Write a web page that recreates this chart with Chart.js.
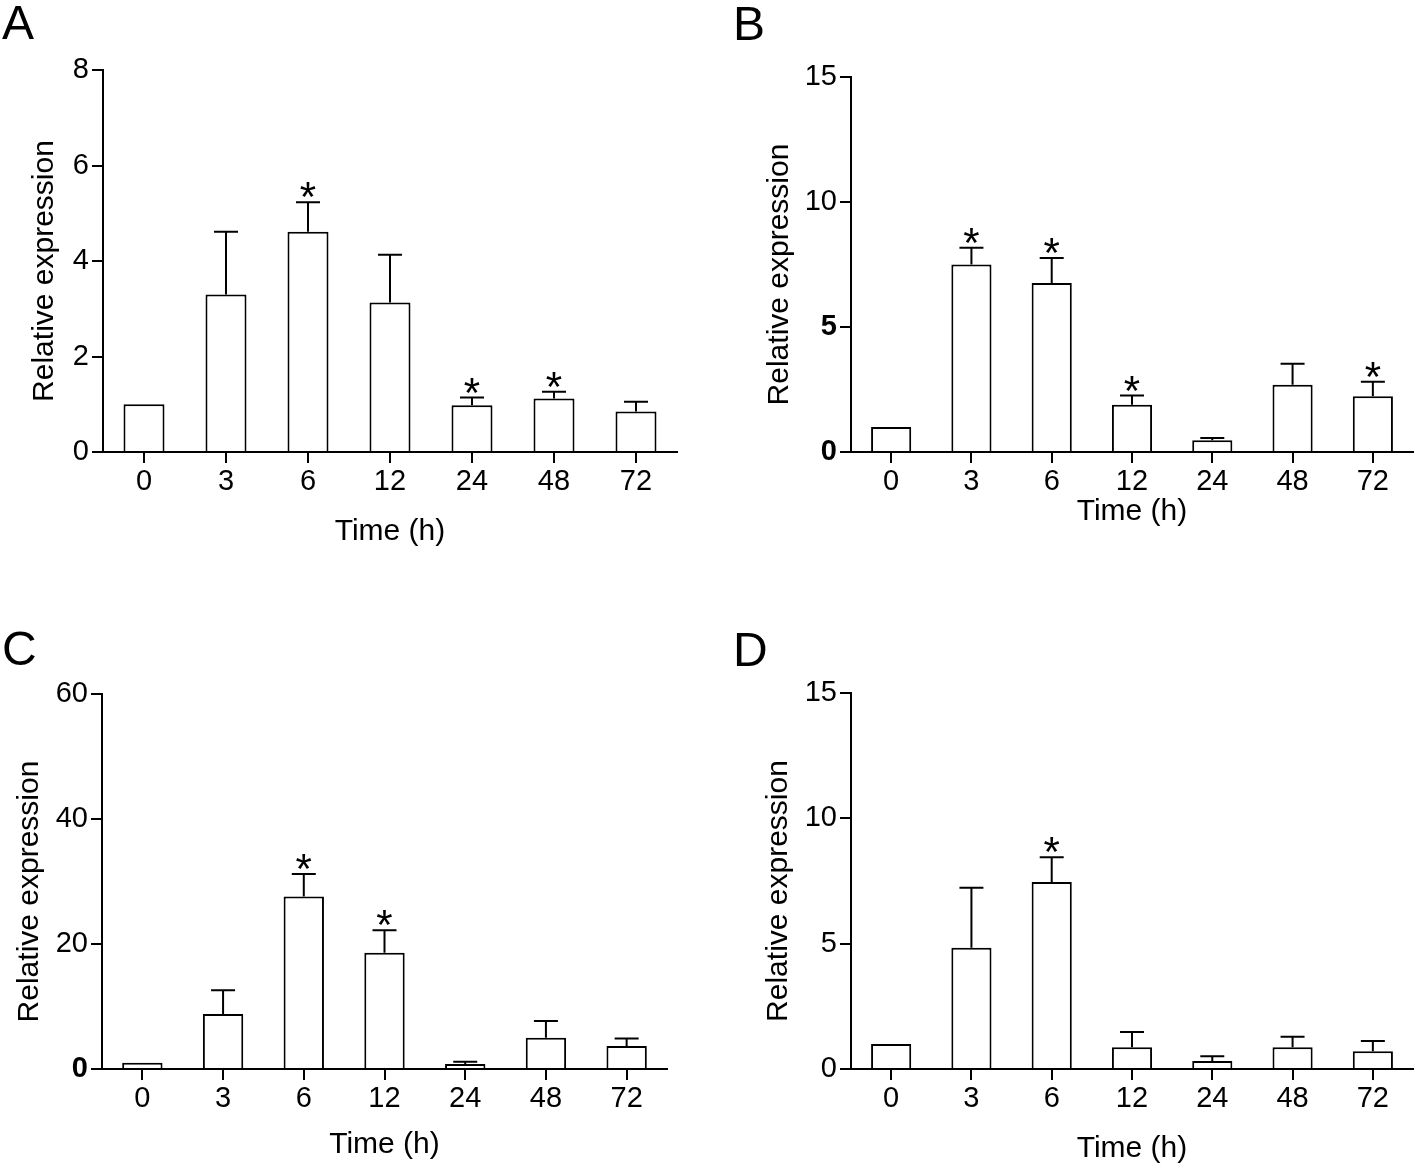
<!DOCTYPE html>
<html><head><meta charset="utf-8">
<script src="https://cdn.jsdelivr.net/npm/chart.js@4.4.0/dist/chart.umd.min.js"></script>
<style>
html,body{margin:0;padding:0;background:#fff;}
#page{position:relative;width:1418px;height:1169px;overflow:hidden;background:#fff;}
canvas{position:absolute;}
.lbl{position:absolute;font-family:"Liberation Sans",Arial,sans-serif;font-size:48px;line-height:1;color:#000;}
</style></head><body>
<div id="page">
  <canvas id="cA" width="709" height="584" style="left:0px;top:0px"></canvas>
  <canvas id="cB" width="709" height="584" style="left:709px;top:0px"></canvas>
  <canvas id="cC" width="709" height="584" style="left:0px;top:585px"></canvas>
  <canvas id="cD" width="709" height="584" style="left:709px;top:585px"></canvas>
  <div class="lbl" style="left:2px;top:-1px">A</div>
  <div class="lbl" style="left:733px;top:0px">B</div>
  <div class="lbl" style="left:2px;top:625px">C</div>
  <div class="lbl" style="left:733px;top:626px">D</div>
</div>
<script>
// ---- data ----
const categories = ['0', '3', '6', '12', '24', '48', '72'];

const meanA = [1.00, 3.30, 4.61, 3.13, 0.98, 1.12, 0.85];
const errA  = [0,    1.31, 0.62, 1.00, 0.16, 0.14, 0.20];
const sigA  = [false, false, true, false, true, true, false];
const yTicksA = [0, 2, 4, 6, 8];
const boldTicksA = [];

const meanB = [1.00, 7.50, 6.76, 1.89, 0.47, 2.69, 2.23];
const errB  = [0,    0.67, 1.00, 0.37, 0.09, 0.84, 0.58];
const sigB  = [false, true, true, true, false, false, true];
const yTicksB = [0, 5, 10, 15];
const boldTicksB = [0, 5];

const meanC = [1.0, 8.8, 27.6, 18.6, 0.8, 5.0, 3.7];
const errC  = [0,   3.8, 3.6,  3.6,  0.36, 2.7, 1.2];
const sigC  = [false, false, true, true, false, false, false];
const yTicksC = [0, 20, 40, 60];
const boldTicksC = [0];

const meanD = [1.00, 4.84, 7.46, 0.87, 0.32, 0.87, 0.71];
const errD  = [0,    2.39, 0.99, 0.61, 0.19, 0.42, 0.41];
const sigD  = [false, false, true, false, false, false, false];
const yTicksD = [0, 5, 10, 15];
const boldTicksD = [];

const xTitle = 'Time (h)';
const yTitle = 'Relative expression';

// ---- rendering ----
const FONT = '"Liberation Sans", Arial, sans-serif';
Chart.defaults.color = '#000';
Chart.defaults.font.family = FONT;

const errorBarPlugin = {
  id: 'errorBars',
  afterDatasetsDraw(chart, args, opts) {
    const ctx = chart.ctx;
    const meta = chart.getDatasetMeta(0);
    const ys = chart.scales.y;
    const ds = chart.data.datasets[0];
    ctx.save();
    ctx.strokeStyle = '#000';
    ctx.lineWidth = 2;
    ctx.fillStyle = '#000';
    ds.data.forEach((v, i) => {
      const bar = meta.data[i];
      const e = opts.err[i];
      const x = bar.x;
      const yBar = ys.getPixelForValue(v);
      const yTop = ys.getPixelForValue(v + e);
      if (e > 0) {
        ctx.beginPath();
        ctx.moveTo(x, yBar);
        ctx.lineTo(x, yTop);
        ctx.moveTo(x - 12, yTop);
        ctx.lineTo(x + 12, yTop);
        ctx.stroke();
      }
      if (opts.sig[i]) {
        ctx.font = '42px ' + FONT;
        ctx.textAlign = 'center';
        ctx.textBaseline = 'alphabetic';
        ctx.fillText('*', x, yTop + 9);
      }
    });
    ctx.restore();
  }
};

const yTitlePlugin = {
  id: 'yTitle',
  afterDraw(chart, args, opts) {
    const ca = chart.chartArea;
    const ctx = chart.ctx;
    ctx.save();
    ctx.translate(ca.left - opts.dx, (ca.top + ca.bottom) / 2 + 10);
    ctx.rotate(-Math.PI / 2);
    ctx.font = '30px ' + FONT;
    ctx.fillStyle = '#000';
    ctx.textAlign = 'center';
    ctx.textBaseline = 'middle';
    ctx.fillText(opts.text, 0, 0);
    ctx.restore();
  }
};

function makePanel(id, mean, err, sig, yTicks, boldTicks, geo) {
  new Chart(document.getElementById(id), {
    type: 'bar',
    data: {
      labels: categories,
      datasets: [{
        data: mean,
        backgroundColor: '#fff',
        borderColor: '#000',
        borderWidth: 2,
        categoryPercentage: 0.5,
        barPercentage: 1.0
      }]
    },
    options: {
      responsive: false,
      animation: false,
      devicePixelRatio: 1,
      layout: { padding: geo.pad },
      plugins: {
        legend: { display: false },
        tooltip: { enabled: false },
        errorBars: { err: err, sig: sig },
        yTitle: { text: yTitle, dx: geo.yTitleDx }
      },
      scales: {
        x: {
          offset: true,
          grid: { offset: false, drawOnChartArea: false, drawTicks: true, tickLength: 11, color: '#000', lineWidth: 2 },
          border: { display: true, color: '#000', width: 2 },
          ticks: { font: { size: 29, family: FONT }, color: '#000', padding: 2, maxRotation: 0 },
          title: { display: true, text: xTitle, font: { size: 30, family: FONT }, color: '#000', padding: { top: 0, bottom: geo.xTitlePadB } },
          afterFit(scale) { scale.height = geo.xH; }
        },
        y: {
          min: yTicks[0],
          max: yTicks[yTicks.length - 1],
          ticks: {
            stepSize: yTicks[1] - yTicks[0],
            padding: 3,
            color: '#000',
            font: (c) => ({ size: 29, family: FONT, weight: (c.tick && boldTicks.includes(c.tick.value)) ? 'bold' : 'normal' })
          },
          grid: { drawOnChartArea: false, drawTicks: true, tickLength: 11, color: '#000', lineWidth: 2 },
          border: { display: true, color: '#000', width: 2 },
          afterFit(scale) { scale.width = geo.yW; }
        }
      }
    },
    plugins: [errorBarPlugin, yTitlePlugin]
  });
}

makePanel('cA', meanA, errA, sigA, yTicksA, boldTicksA,
  { pad: { left: 0, top: 70, right: 32, bottom: 32 }, yW: 103, xH: 100, xTitlePadB: 2, yTitleDx: 58 });
makePanel('cB', meanB, errB, sigB, yTicksB, boldTicksB,
  { pad: { left: 0, top: 77, right: 5, bottom: 32 }, yW: 142, xH: 100, xTitlePadB: 22, yTitleDx: 71 });
makePanel('cC', meanC, errC, sigC, yTicksC, boldTicksC,
  { pad: { left: 0, top: 109, right: 42, bottom: 0 }, yW: 102, xH: 100, xTitlePadB: 6, yTitleDx: 72 });
makePanel('cD', meanD, errD, sigD, yTicksD, boldTicksD,
  { pad: { left: 0, top: 108, right: 5, bottom: 0 }, yW: 142, xH: 100, xTitlePadB: 2, yTitleDx: 72 });
</script>
</body></html>
